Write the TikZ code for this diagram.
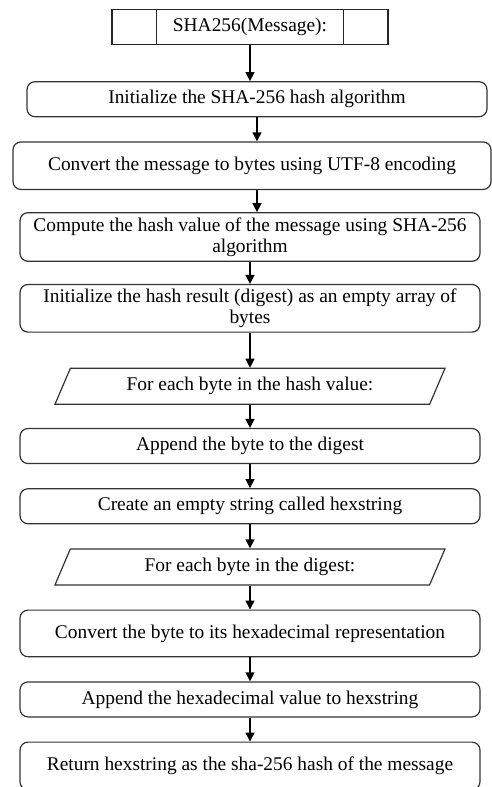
\documentclass[tikz,border=0pt]{standalone}
\usepackage{fontspec}
\setmainfont{Liberation Serif}
\usepackage{tikz}
\usetikzlibrary{shapes, arrows.meta, positioning, calc}

\begin{document}
\begin{tikzpicture}[
        node distance=0cm,
        start/.style={rectangle, draw=black!85, line width=0.6pt, minimum width=138pt, minimum height=17.5pt, font=\fontsize{9.7}{10.5}\selectfont},
        stepbox/.style={rectangle, rounded corners=4pt, draw=black!80, line width=0.6pt, fill=white, align=center, font=\fontsize{9.7}{10.5}\selectfont, minimum width=230pt, minimum height=17.5pt, inner sep=2pt},
        loopbox/.style={trapezium, trapezium left angle=57, trapezium right angle=123, trapezium stretches body, draw=black!80, line width=0.6pt, font=\fontsize{9.7}{10.5}\selectfont, minimum width=195pt, minimum height=18pt, inner sep=1.5pt},
        flow/.style={-{Triangle[length=4.5pt, width=4.5pt]}, line width=0.7pt}
    ]
        \useasboundingbox (0,0) rectangle (246pt,-393.5pt);

        \node[start] (top) at (125pt,-13.5pt) {SHA256(Message):};
        \draw[black!85, line width=0.6pt] ([xshift=22.5pt]top.north west) -- ([xshift=22.5pt]top.south west);
        \draw[black!85, line width=0.6pt] ([xshift=-22.5pt]top.north east) -- ([xshift=-22.5pt]top.south east);

        \node[stepbox, below=18pt of top, xshift=3.5pt] (b1) {Initialize the SHA-256 hash algorithm};
        \node[stepbox, below=12pt of b1, xshift=-2.5pt, minimum width=239pt, minimum height=23.8pt] (b2) {Convert the message to bytes using UTF-8 encoding};
        \node[stepbox, below=11pt of b2, xshift=-1pt, minimum height=24.3pt] (b3) {Compute the hash value of the message using SHA-256\\algorithm};
        \node[stepbox, below=11pt of b3, minimum height=23.8pt] (b4) {Initialize the hash result (digest) as an empty array of\\bytes};
        \node[loopbox, below=17.5pt of b4] (p1) {For each byte in the hash value:};
        \node[stepbox, below=11.5pt of p1] (b5) {Append the byte to the digest};
        \node[stepbox, below=12pt of b5] (b6) {Create an empty string called hexstring};
        \node[loopbox, below=12pt of b6] (p2) {For each byte in the digest:};
        \node[stepbox, below=12pt of p2, minimum height=23.3pt] (b7) {Convert the byte to its hexadecimal representation};
        \node[stepbox, below=12pt of b7] (b8) {Append the hexadecimal value to hexstring};
        \node[stepbox, below=12pt of b8, minimum height=23.8pt] (b9) {Return hexstring as the sha-256 hash of the message};

        \draw[flow] (top.south) -- (top.south |- b1.north);
        \draw[flow] (b1.south) -- (b1.south |- b2.north);
        \draw[flow] (b1.south |- b2.south) -- (b1.south |- b3.north);
        \draw[flow] (b3.south) -- (b4.north);
        \draw[flow] (b4.south) -- (p1.north);
        \draw[flow] (p1.south) -- (b5.north);
        \draw[flow] (b5.south) -- (b6.north);
        \draw[flow] (b6.south) -- (p2.north);
        \draw[flow] (p2.south) -- (b7.north);
        \draw[flow] (b7.south) -- (b8.north);
        \draw[flow] (b8.south) -- (b9.north);
    \end{tikzpicture}
\end{document}
